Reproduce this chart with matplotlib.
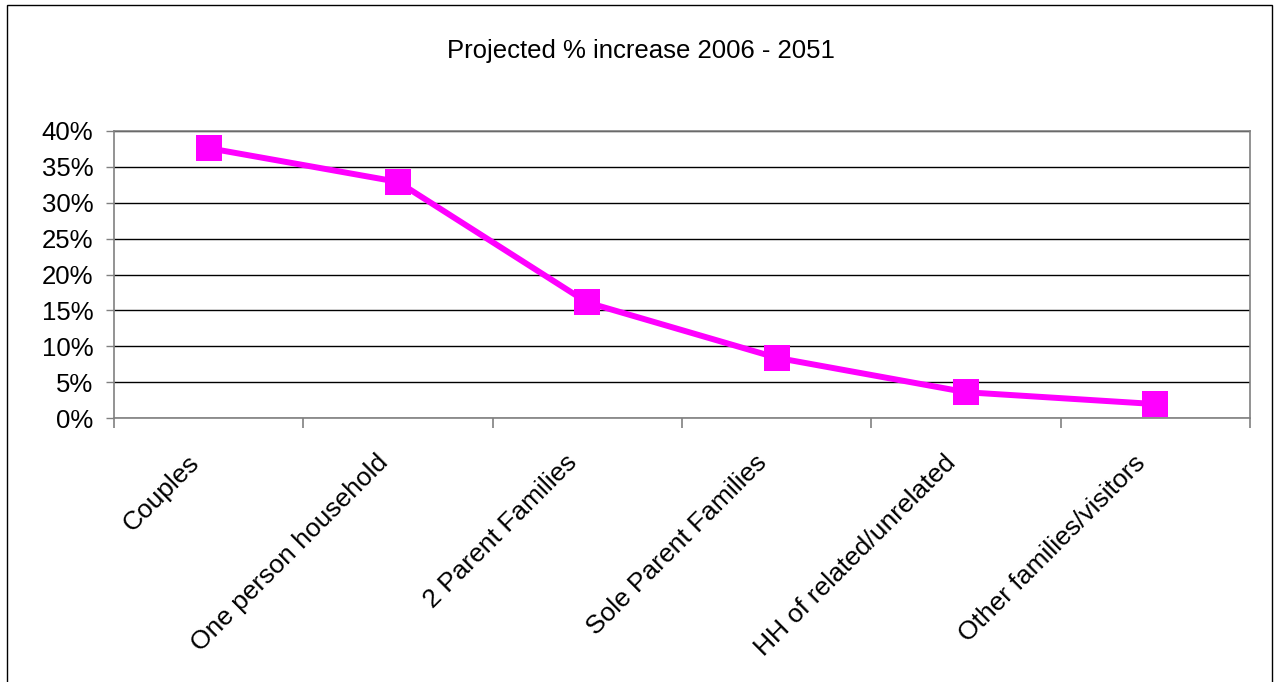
#!/usr/bin/env python

import matplotlib
matplotlib.use("Agg")
import matplotlib.pyplot as plt
from matplotlib.patches import Rectangle
from matplotlib.ticker import FuncFormatter, FixedLocator
from matplotlib.transforms import ScaledTranslation

# Household types and projected % increase
categories = ["Couples", "One person household", "2 Parent Families",
              "Sole Parent Families", "HH of related/unrelated",
              "Other families/visitors"]
increase = [37.6, 32.9, 16.1, 8.4, 3.6, 1.95]
y_ticks = [0, 5, 10, 15, 20, 25, 30, 35, 40]


def main():
    plt.rcParams["font.family"] = ["Liberation Sans", "DejaVu Sans"]

    fig = plt.figure(figsize=(12.81, 6.82), dpi=100)
    ax = fig.add_axes([0.089, 0.387, 0.8868, 0.421])

    x = range(len(categories))
    ax.plot(x, increase, color="#FF00FF", linewidth=4.3, marker="s",
            markersize=18.5, markeredgewidth=0, zorder=3)

    ax.set_xlim(-0.5, len(categories) - 0.5)
    ax.set_ylim(0, 40)
    ax.set_yticks(y_ticks)
    ax.yaxis.set_major_formatter(FuncFormatter(lambda v, p: f"{v:.0f}%"))
    ax.tick_params(axis="y", labelsize=18.5, length=6, width=1,
                   color="#808080", pad=9)

    # category ticks sit between categories, labels at the centres
    ax.set_xticks(list(x))
    ax.set_xticklabels(categories, rotation=45, ha="right",
                       rotation_mode="anchor", fontsize=19)
    ax.tick_params(axis="x", which="major", length=0, pad=14)
    shift = ScaledTranslation(-22 / 100, -13 / 100, fig.dpi_scale_trans)
    for lbl in ax.get_xticklabels():
        lbl.set_transform(lbl.get_transform() + shift)
    ax.xaxis.set_minor_locator(FixedLocator(
        [i - 0.5 for i in range(len(categories) + 1)]))
    ax.tick_params(axis="x", which="minor", length=7, width=1.2,
                   color="#808080")

    ax.grid(axis="y", color="black", linewidth=1)
    ax.set_axisbelow(True)
    for side in ["left", "bottom", "right", "top"]:
        ax.spines[side].set_color("#808080")
        ax.spines[side].set_linewidth(1.2)

    fig.text(0.5, 0.925, "Projected % increase 2006 - 2051",
             ha="center", va="center", fontsize=18.5)

    # chart border
    fig.patches.append(Rectangle((0.0055, -0.01), 0.9875, 1.003,
                                 transform=fig.transFigure, fill=False,
                                 edgecolor="black", linewidth=1))

    fig.savefig("out.png", dpi=100)


if __name__ == "__main__":
    main()
